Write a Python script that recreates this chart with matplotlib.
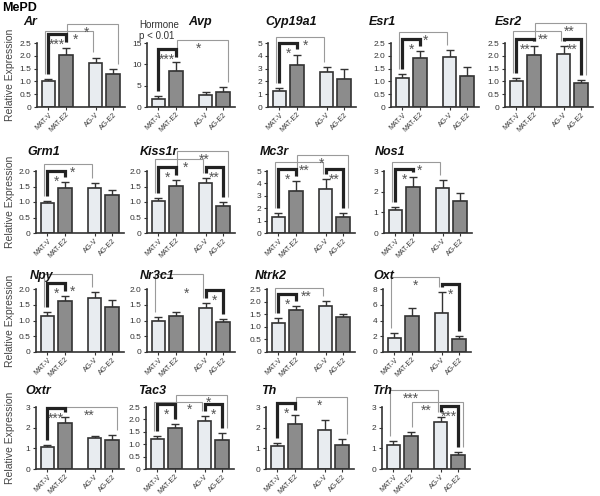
import matplotlib
matplotlib.use('Agg')
import matplotlib.pyplot as plt
from matplotlib.transforms import offset_copy

plt.rcParams['font.family'] = ['Liberation Sans', 'DejaVu Sans']

groups = ['MAT-V', 'MAT-E2', 'AG-V', 'AG-E2']

# mean and SEM (upper) per gene
ar = [1.02, 2.04, 1.73, 1.28]
ar_err = [0.08, 0.28, 0.20, 0.19]
avp = [1.95, 8.45, 2.75, 3.55]
avp_err = [0.65, 2.0, 0.8, 1.05]
cyp19a1 = [1.22, 3.3, 2.73, 2.21]
cyp19a1_err = [0.29, 0.8, 0.39, 0.73]
esr1 = [1.12, 1.92, 1.97, 1.21]
esr1_err = [0.16, 0.25, 0.24, 0.37]
esr2 = [1.03, 2.04, 2.07, 0.92]
esr2_err = [0.11, 0.33, 0.30, 0.13]

grm1 = [0.96, 1.44, 1.44, 1.22]
grm1_err = [0.08, 0.21, 0.16, 0.16]
kiss1r = [1.03, 1.51, 1.62, 0.87]
kiss1r_err = [0.09, 0.21, 0.14, 0.12]
mc3r = [1.3, 3.39, 3.57, 1.3]
mc3r_err = [0.31, 0.78, 0.78, 0.31]
nos1 = [1.13, 2.22, 2.2, 1.55]
nos1_err = [0.14, 0.5, 0.38, 0.37]

npy = [1.15, 1.62, 1.73, 1.44]
npy_err = [0.13, 0.17, 0.16, 0.2]
nr3c1 = [0.99, 1.15, 1.4, 0.96]
nr3c1_err = [0.11, 0.11, 0.14, 0.1]
ntrk2 = [1.17, 1.66, 1.84, 1.37]
ntrk2_err = [0.16, 0.18, 0.18, 0.12]
oxt = [1.79, 4.6, 4.95, 1.65]
oxt_err = [0.68, 0.93, 2.65, 0.35]

oxtr = [1.06, 2.24, 1.52, 1.42]
oxtr_err = [0.12, 0.28, 0.08, 0.24]
tac3 = [1.2, 1.67, 1.95, 1.16]
tac3_err = [0.15, 0.16, 0.18, 0.3]
th = [1.09, 2.2, 1.88, 1.16]
th_err = [0.15, 0.4, 0.49, 0.29]
trh = [1.17, 1.6, 2.28, 0.7]
trh_err = [0.2, 0.21, 0.24, 0.14]

# significance brackets: (bar i, bar j, height, label, thick, label x, label y)
ar_sig = [(0, 1, 2.85, '***', True, None, None), (0, 2, 2.97, '*', False, 1.55, None),
          (1, 3, 3.24, '*', False, 2.2, None)]
avp_sig = [(0, 1, 13.6, '***', True, None, None), (1, 3, 15.7, '*', False, 2.3, None)]
cyp19a1_sig = [(0, 1, 5.0, '*', True, None, None), (0, 2, 5.47, '*', False, 1.5, None)]
esr1_sig = [(0, 1, 2.65, '*', True, None, None), (0, 2, 2.94, '*', False, 1.35, None)]
esr2_sig = [(0, 1, 2.65, '**', True, None, None), (2, 3, 2.65, '**', True, None, None),
            (0, 2, 2.97, '**', False, 1.55, None), (1, 3, 3.28, '**', False, 3.0, None)]
grm1_sig = [(0, 1, 2.0, '*', True, None, None), (0, 2, 2.23, '*', False, 1.45, None)]
kiss1r_sig = [(0, 1, 2.13, '*', True, None, None), (0, 2, 2.38, '*', False, 1.55, None),
              (2, 3, 2.13, '**', True, None, None), (1, 3, 2.64, '**', False, 2.6, None)]
mc3r_sig = [(0, 1, 5.15, '*', True, None, None), (0, 2, 5.7, '**', False, 1.45, None),
            (2, 3, 5.15, '**', True, None, None), (1, 3, 6.3, '*', False, 2.45, None)]
nos1_sig = [(0, 1, 3.1, '*', True, None, None), (0, 2, 3.43, '*', False, 1.4, None)]
npy_sig = [(0, 1, 2.2, '*', True, None, None), (0, 2, 2.48, '*', False, 1.45, 2.2)]
nr3c1_sig = [(0, 2, 2.48, '*', False, 1.6, 2.12), (2, 3, 1.97, '*', True, None, None)]
ntrk2_sig = [(0, 1, 2.3, '*', True, None, None), (0, 2, 2.54, '**', False, 1.6, None)]
oxt_sig = [(0, 2, 9.5, '*', False, 1.2, None), (2, 3, 8.6, '*', True, None, None)]
oxtr_sig = [(0, 1, 2.95, '***', True, None, None), (1, 3, 3.0, '**', False, 2.4, None)]
tac3_sig = [(0, 1, 2.62, '*', True, None, None), (0, 2, 2.72, '*', False, 1.85, None),
            (2, 3, 2.62, '*', True, None, None), (1, 3, 3.0, '*', False, 2.9, None)]
th_sig = [(0, 1, 3.2, '*', True, None, None), (1, 3, 3.5, '*', False, 2.4, None)]
trh_sig = [(0, 2, 3.8, '***', False, 1.0, None), (1, 3, 3.24, '**', False, 1.9, None),
           (2, 3, 3.05, '***', True, None, None)]

pos = [0, 1, 2.7, 3.7]
W, H = 600, 496
row_y = [(43, 107), (171, 233), (289, 352), (407, 469)]
title_y = [22, 152, 276, 391]

# name, means, errs, ymax, step, brackets, row, axis x (px), title dx (px)
panels = [
    ('Ar', ar, ar_err, 2.5, 0.5, ar_sig, 0, 37, -14),
    ('Avp', avp, avp_err, 15, 5, avp_sig, 0, 147, 41),
    ('Cyp19a1', cyp19a1, cyp19a1_err, 5, 1, cyp19a1_sig, 0, 268, -3),
    ('Esr1', esr1, esr1_err, 2.5, 0.5, esr1_sig, 0, 391, -22),
    ('Esr2', esr2, esr2_err, 2.5, 0.5, esr2_sig, 0, 505, -10),
    ('Grm1', grm1, grm1_err, 2.0, 0.5, grm1_sig, 1, 36, -9),
    ('Kiss1r', kiss1r, kiss1r_err, 2.0, 0.5, kiss1r_sig, 1, 147, -7),
    ('Mc3r', mc3r, mc3r_err, 5, 1, mc3r_sig, 1, 267, -7),
    ('Nos1', nos1, nos1_err, 3, 1, nos1_sig, 1, 384, -9),
    ('Npy', npy, npy_err, 2.0, 0.5, npy_sig, 2, 36, -6),
    ('Nr3c1', nr3c1, nr3c1_err, 2.0, 0.5, nr3c1_sig, 2, 147, -7),
    ('Ntrk2', ntrk2, ntrk2_err, 2.5, 0.5, ntrk2_sig, 2, 267, -12),
    ('Oxt', oxt, oxt_err, 8, 2, oxt_sig, 2, 383, -10),
    ('Oxtr', oxtr, oxtr_err, 3, 1, oxtr_sig, 3, 36, -11),
    ('Tac3', tac3, tac3_err, 2.5, 0.5, tac3_sig, 3, 146, -8),
    ('Th', th, th_err, 3, 1, th_sig, 3, 266, -5),
    ('Trh', trh, trh_err, 3, 1, trh_sig, 3, 382, -10),
]

light = '#e8ecf0'
dark = '#8c8c8c'
ink = '#333333'

fig = plt.figure(figsize=(6, 4.96), dpi=100)

for name, vals, errs, ymax, step, sig, row, ax_x, tdx in panels:
    ytop, ybot = row_y[row]
    ax = fig.add_axes([ax_x / W, 1 - ybot / H, 87.5 / W, (ybot - ytop) / H])
    ax.bar(pos, vals, width=0.78, color=[light, dark, light, dark],
           edgecolor=ink, linewidth=1.2, zorder=2)
    ax.errorbar(pos, vals, yerr=[[0] * 4, errs], fmt='none', ecolor=ink,
                elinewidth=1, capsize=3, capthick=1, zorder=1)
    ax.set_xlim(-0.65, 4.35)
    ax.set_ylim(0, ymax)
    n = int(round(ymax / step))
    ticks = [k * step for k in range(n + 1)]
    ax.set_yticks(ticks)
    ax.set_yticklabels(['0' if t == 0 else ('%.1f' % t if step < 1 else '%d' % t) for t in ticks])
    ax.set_xticks(pos)
    ax.set_xticklabels(groups, rotation=45, ha='right', rotation_mode='anchor')
    ax.tick_params(axis='y', labelsize=6, colors=ink, length=2.5, width=0.8, pad=1.5)
    ax.tick_params(axis='x', labelsize=5, colors=ink, length=2, width=0.8, pad=1)
    for s in ['top', 'right']:
        ax.spines[s].set_visible(False)
    for s in ['left', 'bottom']:
        ax.spines[s].set_linewidth(1.2)
        ax.spines[s].set_color(ink)

    pad = 0.08 * ymax
    for i, j, y, label, thick, lx, ly in sig:
        if thick:
            xl, xr = pos[i], pos[j]
            color, lw, off = '#222222', 2.3, -2.6
        else:
            xl = pos[i] + (-0.2 if i == 0 else 0.05)
            xr = pos[j] + (0.25 if j == 3 else -0.15)
            color, lw, off = '#9a9a9a', 0.8, -1.2
        yl = vals[i] + errs[i] + pad
        yr = vals[j] + errs[j] + pad
        ax.plot([xl, xl, xr, xr], [yl, y, y, yr], color=color, lw=lw,
                clip_on=False, solid_joinstyle='miter', solid_capstyle='butt',
                zorder=4 if thick else 3)
        tx = (pos[i] + pos[j]) / 2 if lx is None else lx
        ty = y if ly is None else ly
        ax.text(tx, ty, label, transform=offset_copy(ax.transData, fig=fig, y=off, units='points'),
                ha='center', va='top', fontsize=10, color='#555555', clip_on=False)

    fig.text((ax_x + tdx) / W, 1 - title_y[row] / H, name, fontsize=9,
             fontweight='bold', fontstyle='italic', ha='left', va='center', color='#111111')

    if ax_x < 40:
        fig.text(10 / W, 1 - (ytop + ybot) / 2 / H, 'Relative Expression', rotation=90,
                 fontsize=7.5, color='#444444', ha='center', va='center')

fig.text(2 / W, 1 - 8 / H, 'MePD', fontsize=9, fontweight='bold', ha='left', va='center')
fig.text(139 / W, 1 - 25 / H, 'Hormone', fontsize=7, color=ink, ha='left', va='center')
fig.text(139 / W, 1 - 36 / H, 'p < 0.01', fontsize=7, color=ink, ha='left', va='center')

fig.savefig('out.png', dpi=100)
